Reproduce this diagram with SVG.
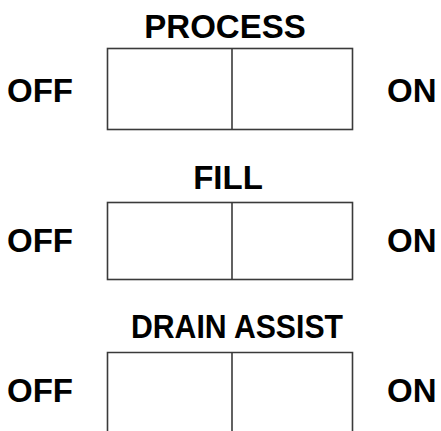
<svg xmlns="http://www.w3.org/2000/svg" width="441" height="431" viewBox="0 0 441 431">
  <style>
    .lbl { font-family: "Liberation Sans", Arial, sans-serif; font-weight: bold; font-size: 33px; fill: #000; }
    .mid { text-anchor: middle; }
    .box { fill: none; stroke: #3a3a3a; stroke-width: 1.6; }
  </style>
  <rect width="441" height="431" fill="#fff"/>

  <!-- PROCESS switch -->
  <g id="process">
    <text class="lbl mid" x="225" y="38">PROCESS</text>
    <text class="lbl" x="7" y="102">OFF</text>
    <text class="lbl" x="387" y="102">ON</text>
    <rect class="box" x="107.5" y="48.5" width="245" height="81"/>
    <line class="box" x1="232" y1="48.5" x2="232" y2="129.5"/>
  </g>

  <!-- FILL switch -->
  <g id="fill">
    <text class="lbl mid" x="228" y="189">FILL</text>
    <text class="lbl" x="7" y="252">OFF</text>
    <text class="lbl" x="387" y="252">ON</text>
    <rect class="box" x="107.5" y="202.5" width="245" height="77"/>
    <line class="box" x1="232" y1="202.5" x2="232" y2="279.5"/>
  </g>

  <!-- DRAIN ASSIST switch (runs off the bottom edge) -->
  <g id="drain-assist">
    <text class="lbl mid" x="237" y="338" textLength="212" lengthAdjust="spacingAndGlyphs">DRAIN ASSIST</text>
    <text class="lbl" x="7" y="402">OFF</text>
    <text class="lbl" x="387" y="402">ON</text>
    <path class="box" d="M107.5 440 V352.5 H352.5 V440"/>
    <line class="box" x1="232" y1="352.5" x2="232" y2="440"/>
  </g>

  <g id="connectors"/>
</svg>
